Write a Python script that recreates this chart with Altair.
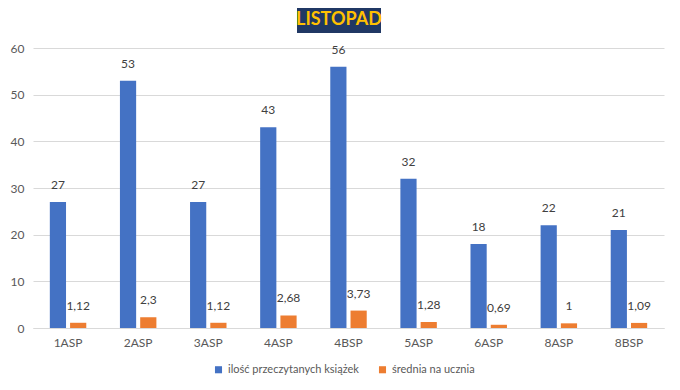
import altair as alt
import pandas as pd

classes = ["1ASP", "2ASP", "3ASP", "4ASP", "4BSP", "5ASP", "6ASP", "8ASP", "8BSP"]
books = [27, 53, 27, 43, 56, 32, 18, 22, 21]
avg = [1.12, 2.3, 1.12, 2.68, 3.73, 1.28, 0.69, 1, 1.09]
series = ["ilość przeczytanych książek", "średnia na ucznia"]
colors = ["#4472C4", "#ED7D31"]
title_text = "LISTOPAD"

rows = []
for c, b, a in zip(classes, books, avg):
    rows.append({"klasa": c, "seria": series[0], "wartosc": b})
    rows.append({"klasa": c, "seria": series[1], "wartosc": a})
df = pd.DataFrame(rows)

FONT = "Lato"

base = alt.Chart(df).transform_calculate(
    label="replace(toString(datum.wartosc), '.', ',')"
)

x = alt.X("klasa:N", sort=classes, title=None,
          scale=alt.Scale(paddingInner=0.48, paddingOuter=0.24),
          axis=alt.Axis(labelAngle=0, ticks=False, domain=True, domainColor="#D9D9D9",
                        labelColor="#595959", labelFontSize=12, labelFont=FONT, labelPadding=9))
xo = alt.XOffset("seria:N", sort=series, scale=alt.Scale(paddingInner=0.2))

bars = base.mark_bar().encode(
    x=x,
    xOffset=xo,
    y=alt.Y("wartosc:Q", title=None,
            scale=alt.Scale(domain=[0, 60]),
            axis=alt.Axis(values=[0, 10, 20, 30, 40, 50, 60], ticks=False, domain=False,
                          gridColor="#D9D9D9", labelColor="#595959", labelFontSize=12,
                          labelFont=FONT, labelPadding=9)),
    color=alt.Color("seria:N", sort=series,
                    scale=alt.Scale(domain=series, range=colors),
                    legend=alt.Legend(title=None, orient="none", direction="horizontal",
                                      legendX=180, legendY=316, symbolType="square",
                                      symbolSize=50, labelFontSize=11, labelFont=FONT,
                                      labelColor="#595959", columnPadding=18,
                                      symbolStrokeWidth=0)),
)

labels = base.mark_text(dy=-10, fontSize=12, font=FONT, color="#404040", baseline="bottom").encode(
    x=alt.X("klasa:N", sort=classes),
    xOffset=alt.XOffset("seria:N", sort=series),
    y="wartosc:Q",
    text="label:N",
)

title_box = alt.Chart(pd.DataFrame({"t": [title_text]})).mark_rect(color="#203864").encode(
    x=alt.value(264), x2=alt.value(348), y=alt.value(-40), y2=alt.value(-15)
)
title = alt.Chart(pd.DataFrame({"t": [title_text]})).mark_text(
    color="#FFC000", fontSize=18, fontWeight="bold", font=FONT, align="center", baseline="middle"
).encode(x=alt.value(306), y=alt.value(-28), text="t:N")

chart = alt.layer(bars, labels, title_box, title).properties(
    width=631, height=280,
    autosize=alt.AutoSizeParams(type="none"),
    padding={"left": 25, "top": 40, "right": 8, "bottom": 54},
).configure_view(stroke=None)

chart.save("out.html", embed_options={"renderer": "svg", "actions": False})
